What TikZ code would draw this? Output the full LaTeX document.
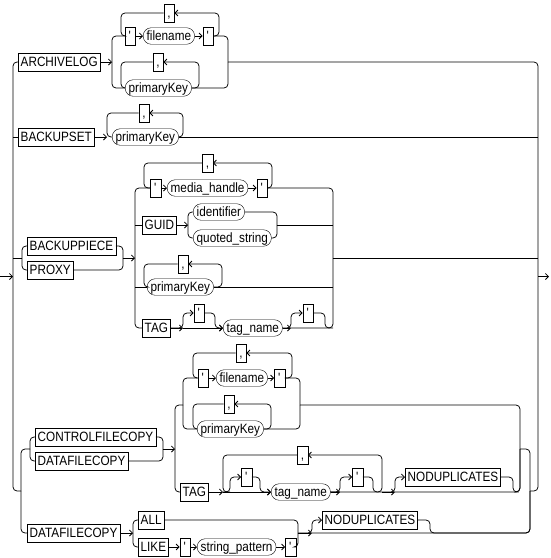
\documentclass[tikz,border=0pt]{standalone}
\usepackage{fontspec}
\newfontfamily\rrfont{Liberation Sans}[FakeStretch=0.87]
\usetikzlibrary{arrows.meta}

\begin{document}
\begin{tikzpicture}[
    x=1pt, y=-1pt,
    kw/.style={draw, anchor=west, minimum height=17.5pt, inner xsep=2.5pt, inner ysep=0pt,
               text height=9.6pt, text depth=0pt, font=\rrfont\fontsize{13.5}{15}\selectfont},
    nt/.style={kw, rounded corners=8pt, minimum height=16.5pt, inner xsep=3.5pt},
    lit/.style={draw, minimum width=10.5pt, minimum height=18pt, inner sep=0pt,
                text height=9.6pt, text depth=0pt, font=\rrfont\fontsize{13.5}{15}\selectfont},
    rr/.style={line width=0.75pt, rounded corners=4pt},
    ar/.style={rr, -{Straight Barb[length=3pt, width=6pt]}},
]
\useasboundingbox (0,0) rectangle (550,558);

% main rail
\coordinate (start) at (0,276.5);
\coordinate (mL) at (13,276.5);
\coordinate (mR) at (538,276.5);
\coordinate (stop) at (549,276.5);
\draw[ar] (start) -- (mL);
\draw[ar] (mR) -- (stop);

% Branch 1: ARCHIVELOG
\node[kw] (arch) at (18,62) {ARCHIVELOG};
\coordinate (aL) at (112,62);
\coordinate (aR) at (228,62);
\node[lit] (qa1) at (130,36) {\textquotesingle};
\node[nt] (fna) at (143,36) {filename};
\node[lit] (qa2) at (208,36) {\textquotesingle};
\node[lit] (ca1) at (169,13) {,};
\coordinate (la1) at (121,36);
\coordinate (ra1) at (219,36);
\node[nt] (pka) at (125,88) {primaryKey};
\node[lit] (ca2) at (158,62) {,};
\coordinate (la2) at (121,88);
\coordinate (ra2) at (199,88);

\draw[rr] (mL) |- (arch);
\draw[ar] (arch) -- (aL);
\draw[rr] (aL) |- (qa1);
\draw[rr] (aL) |- (pka);
\draw[ar] (qa1) -- (fna);
\draw[ar] (fna) -- (qa2);
\draw[rr] (qa2) -| (aR);
\draw[ar] (qa2.east) -- (ra1) |- (ca1);
\draw[rr] (ca1) -| (la1) -- (qa1);
\draw[rr] (pka) -| (aR);
\draw[ar] (pka.east) -- (ra2) |- (ca2);
\draw[rr] (ca2) -| (la2) -- (pka);
\draw[rr] (aR) -| (mR);

% Branch 2: BACKUPSET
\node[kw] (bset) at (18,137) {BACKUPSET};
\node[nt] (pkb) at (112,137) {primaryKey};
\node[lit] (cb) at (144,113) {,};
\coordinate (lb) at (107,137);
\coordinate (rb) at (183,137);

\draw[rr] (bset.west -| mL) -- (bset);
\draw[ar] (bset) -- (lb);
\draw[rr] (cb) -| (lb) -- (pkb);
\draw[ar] (pkb.east) -- (rb) |- (cb);
\draw[rr] (pkb) -- (pkb.east -| mR);

% Branch 3: BACKUPPIECE / PROXY
\coordinate (cL) at (22,258);
\node[kw] (bpc) at (27,246) {BACKUPPIECE};
\node[kw] (prx) at (27,270) {PROXY};
\coordinate (cM) at (123,258);
\coordinate (cO) at (135,258);
\coordinate (cR) at (333,258);

\draw[rr] (cL -| mL) -- (cL);
\draw[rr] (cL) |- (bpc);
\draw[rr] (cL) |- (prx);
\draw[rr] (bpc) -| (cM);
\draw[rr] (prx) -| (cM);
\draw[ar] (cM) -- (cO);

% media_handle list
\node[lit] (qc1) at (155.5,188) {\textquotesingle};
\node[nt] (mh) at (167,188) {media\_handle};
\node[lit] (qc2) at (262,188) {\textquotesingle};
\node[lit] (cc1) at (207.5,163) {,};
\coordinate (lc1) at (144,188);
\coordinate (rc1) at (272,188);
\draw[rr] (cO) |- (qc1);
\draw[ar] (qc1) -- (mh);
\draw[ar] (mh) -- (qc2);
\draw[rr] (qc2) -| (cR);
\draw[ar] (qc2.east) -- (rc1) |- (cc1);
\draw[rr] (cc1) -| (lc1) -- (qc1);

% GUID
\node[kw] (guid) at (142,225) {GUID};
\coordinate (gL) at (188,225);
\coordinate (gR) at (277,225);
\node[nt] (idf) at (193,212) {identifier};
\node[nt] (qst) at (193,238) {quoted\_string};
\draw[rr] (guid.west -| cO) -- (guid);
\draw[ar] (guid) -- (gL);
\draw[rr] (gL) |- (idf);
\draw[rr] (gL) |- (qst);
\draw[rr] (idf) -| (gR);
\draw[rr] (qst) -| (gR);
\draw[rr] (gR) -- (gR -| cR);

% primaryKey list
\node[nt] (pkc) at (147,287) {primaryKey};
\node[lit] (cc2) at (183,264) {,};
\coordinate (lc2) at (144,287);
\coordinate (rc2) at (222,287);
\draw[rr] (pkc.west -| cO) -- (pkc);
\draw[rr] (pkc) -- (pkc.east -| cR);
\draw[ar] (pkc.east) -- (rc2) |- (cc2);
\draw[rr] (cc2) -| (lc2) -- (pkc);

% TAG
\node[kw] (tagc) at (142,328) {TAG};
\coordinate (tc1) at (183,328);
\node[lit] (qc3) at (199,313) {\textquotesingle};
\coordinate (tc2) at (215,328);
\node[nt] (tnc) at (223,328) {tag\_name};
\coordinate (tc3) at (291,328);
\node[lit] (qc4) at (308,313) {\textquotesingle};
\coordinate (tc4) at (325,328);
\draw[rr] (cO) |- (tagc);
\draw[ar] (tagc) -- (tc1);
\draw[ar] (tc1) -- (tnc);
\draw[ar] (tagc.east) -- (tc1) |- (qc3);
\draw[ar] (qc3) -| (tc2) -- (tnc);
\draw[ar] (tnc) -- (tc3);
\draw[rr] (tc3) -| (cR);
\draw[ar] (tnc.east) -- (tc3) |- (qc4);
\draw[rr] (qc4) -| (tc4) -- (tc4 -| cR);
\draw[rr] (cR) -- (cR -| mR);

% Branch 4: copies
\coordinate (dL) at (21,491);
\coordinate (dR) at (530,491);
\coordinate (d1L) at (30,449);
\node[kw] (cfc) at (35,437) {CONTROLFILECOPY};
\node[kw] (dfc) at (35,461) {DATAFILECOPY};
\coordinate (d1M) at (163,449);
\coordinate (d1O) at (175,449);
\coordinate (d1R) at (520,449);

\draw[rr] (mL) |- (dL);
\draw[rr] (dL) |- (d1L);
\draw[rr] (d1L) |- (cfc);
\draw[rr] (d1L) |- (dfc);
\draw[rr] (cfc) -| (d1M);
\draw[rr] (dfc) -| (d1M);
\draw[ar] (d1M) -- (d1O);

% filename / primaryKey lists
\coordinate (o1) at (183,405);
\coordinate (o1R) at (300,405);
\node[lit] (qd1) at (203,378) {\textquotesingle};
\node[nt] (fnd) at (216,378) {filename};
\node[lit] (qd2) at (279.5,378) {\textquotesingle};
\node[lit] (cd1) at (241,353) {,};
\coordinate (ld1) at (193,378);
\coordinate (rd1) at (292,378);
\node[nt] (pkd) at (197,429) {primaryKey};
\node[lit] (cd2) at (229,404) {,};
\coordinate (ld2) at (193,429);
\coordinate (rd2) at (271,429);

\draw[rr] (d1O) |- (o1);
\draw[rr] (o1) |- (qd1);
\draw[rr] (o1) |- (pkd);
\draw[ar] (qd1) -- (fnd);
\draw[ar] (fnd) -- (qd2);
\draw[rr] (qd2) -| (o1R);
\draw[ar] (qd2.east) -- (rd1) |- (cd1);
\draw[rr] (cd1) -| (ld1) -- (qd1);
\draw[rr] (pkd) -| (o1R);
\draw[ar] (pkd.east) -- (rd2) |- (cd2);
\draw[rr] (cd2) -| (ld2) -- (pkd);
\draw[rr] (o1R) -| (d1R);

% TAG list with NODUPLICATES
\node[kw] (tagd) at (180,492) {TAG};
\coordinate (td0) at (223,492);
\coordinate (td1) at (230,492);
\node[lit] (qd3) at (246.5,477) {\textquotesingle};
\coordinate (td2) at (260,492);
\node[nt] (tnd) at (271,492) {tag\_name};
\coordinate (td3) at (340,492);
\node[lit] (qd4) at (357.5,477) {\textquotesingle};
\coordinate (td4) at (373,492);
\coordinate (td5) at (382,492);
\node[lit] (cd3) at (302.5,455) {,};
\coordinate (td6) at (395,492);
\node[kw] (nodd) at (405,477) {NODUPLICATES};
\coordinate (td7) at (513,492);

\draw[rr] (d1O) |- (tagd);
\draw[ar] (tagd) -- (td0);
\draw[ar] (td0) -- (tnd);
\draw[rr] (cd3) -| (td0) -- (td1);
\draw[ar] (td0) -- (td1) |- (qd3);
\draw[ar] (qd3) -| (td2) -- (tnd);
\draw[ar] (tnd) -- (td3);
\draw[ar] (tnd.east) -- (td3) |- (qd4);
\draw[rr] (qd4) -| (td4) -- (td5);
\draw[ar] (tnd.east) -- (td5) |- (cd3);
\draw[ar] (td5) -- (td6);
\draw[ar] (td5) -- (td6) |- (nodd);
\draw[rr] (nodd) -| (td7) -| (d1R);
\draw[rr] (td6) -| (d1R);
\draw[rr] (d1R) -| (dR);

% DATAFILECOPY ALL / LIKE
\node[kw] (dfc2) at (27,533) {DATAFILECOPY};
\coordinate (d2L) at (133,533);
\node[kw] (all) at (138,520) {ALL};
\node[kw] (like) at (138,547) {LIKE};
\node[lit] (qd5) at (185,547) {\textquotesingle};
\node[nt] (spat) at (197,547) {string\_pattern};
\node[lit] (qd6) at (290.5,547) {\textquotesingle};
\coordinate (d2M) at (298,533);
\coordinate (d2a) at (312,533);
\node[kw] (nodd2) at (322,520) {NODUPLICATES};
\coordinate (d2b) at (430,533);

\draw[rr] (dL) |- (dfc2);
\draw[ar] (dfc2) -- (d2L);
\draw[rr] (d2L) |- (all);
\draw[rr] (d2L) |- (like);
\draw[rr] (all) -| (d2M);
\draw[ar] (like) -- (qd5);
\draw[ar] (qd5) -- (spat);
\draw[ar] (spat) -- (qd6);
\draw[rr] (qd6) -| (d2M);
\draw[ar] (d2M) -- (d2a);
\draw[ar] (d2M) -- (d2a) |- (nodd2);
\draw[rr] (nodd2) -| (d2b) -| (dR);
\draw[rr] (d2a) -| (dR);
\draw[rr] (dR) -| (mR);

\end{tikzpicture}
\end{document}
